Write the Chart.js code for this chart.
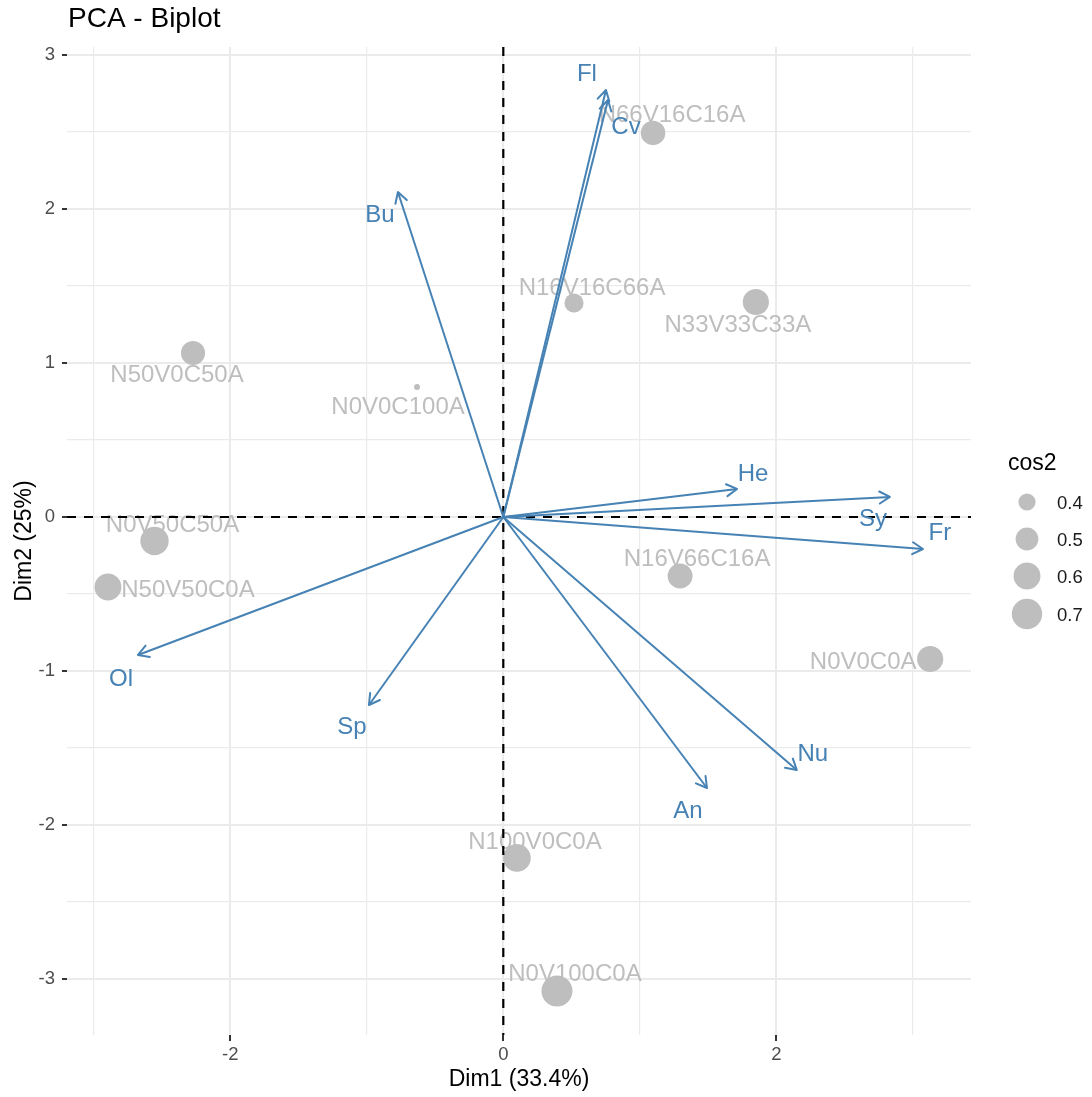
<!DOCTYPE html>
<html>
<head>
<meta charset="utf-8">
<title>PCA - Biplot</title>
<script src="https://cdn.jsdelivr.net/npm/chart.js@4.4.1/dist/chart.umd.min.js"></script>
<style>
  html, body { margin: 0; padding: 0; background: #ffffff; }
  #wrap { width: 1092px; height: 1097px; }
</style>
</head>
<body>
<div id="wrap"><canvas id="biplot" width="1092" height="1097"></canvas></div>
<script>
// ---- Individuals (rows) ----
const individuals = ['N66V16C16A', 'N16V16C66A', 'N33V33C33A', 'N50V0C50A', 'N0V0C100A',
  'N0V50C50A', 'N50V50C0A', 'N16V66C16A', 'N0V0C0A', 'N100V0C0A', 'N0V100C0A'];
const indDim1 = [1.097, 0.518, 1.850, -2.273, -0.632, -2.555, -2.896, 1.295, 3.127, 0.100, 0.393];
const indDim2 = [2.494, 1.390, 1.396, 1.065, 0.844, -0.156, -0.455, -0.383, -0.922, -2.214, -3.078];
const indCos2 = [0.54, 0.43, 0.58, 0.53, 0.32, 0.64, 0.60, 0.55, 0.58, 0.62, 0.72];

// ---- Variables (columns) ----
const variables = ['Fl', 'Cv', 'Bu', 'He', 'Sy', 'Fr', 'Ol', 'Sp', 'An', 'Nu'];
const varDim1 = [0.752, 0.767, -0.772, 1.712, 2.832, 3.074, -2.676, -0.984, 1.492, 2.150];
const varDim2 = [2.773, 2.708, 2.110, 0.182, 0.130, -0.208, -0.896, -1.221, -1.760, -1.643];

// ---- Axes and legend ----
const xTicks = [-3, -2, -1, 0, 1, 2, 3];
const xTickLabels = ['', '-2', '', '0', '', '2', ''];
const yTicks = [-3, -2.5, -2, -1.5, -1, -0.5, 0, 0.5, 1, 1.5, 2, 2.5, 3];
const yTickLabels = ['-3', '', '-2', '', '-1', '', '0', '', '1', '', '2', '', '3'];
const legendValues = [0.4, 0.5, 0.6, 0.7];
const chartTitle = 'PCA - Biplot';
const xAxisTitle = 'Dim1 (33.4%)';
const yAxisTitle = 'Dim2 (25%)';
const legendTitle = 'cos2';

// ---- Label placement (pixel nudges from each mark) ----
const indLabelNudge = [[19, -20], [18, -17], [-18, 21], [-16, 20], [-19, 18], [18, -18],
  [80, 1], [17, -19], [-67, 1], [18, -18], [18, -19]];
const varLabelNudge = [[-19, -18], [18, 25], [-18, 21], [16, -17], [-17, 20], [17, -18],
  [-17, 22], [-17, 20], [-19, 21], [16, -18]];

const FONT = "'Liberation Sans', Arial, Helvetica, sans-serif";
const STEEL = '#4682b4';
const GREY = '#bebebe';

const cosLo = Math.min(...indCos2);
const cosHi = Math.max(...indCos2);
function radiusFor(v) {
  const t = Math.max(0, Math.min(1, (v - cosLo) / (cosHi - cosLo)));
  return 3 + 12.5 * Math.sqrt(t);
}

function textCentered(ctx, text, cx, cy, size, color, align) {
  ctx.save();
  ctx.font = size + 'px ' + FONT;
  ctx.fillStyle = color;
  ctx.textAlign = align || 'center';
  ctx.textBaseline = 'alphabetic';
  ctx.fillText(text, cx, cy + size * 0.358);
  ctx.restore();
}

const biplotLayers = {
  id: 'biplotLayers',
  afterDatasetDraw(chart, args) {
    if (args.index !== 0) return;
    const { ctx, chartArea, scales: { x, y } } = chart;
    // individual labels
    individuals.forEach((name, i) => {
      const px = x.getPixelForValue(indDim1[i]);
      const py = y.getPixelForValue(indDim2[i]);
      textCentered(ctx, name, px + indLabelNudge[i][0], py + indLabelNudge[i][1], 24, GREY);
    });
    // dashed reference lines through the origin
    const x0 = x.getPixelForValue(0);
    const y0 = y.getPixelForValue(0);
    ctx.save();
    ctx.strokeStyle = '#000000';
    ctx.lineWidth = 2.2;
    ctx.setLineDash([9, 8]);
    ctx.beginPath();
    ctx.moveTo(chartArea.left, y0);
    ctx.lineTo(chartArea.right, y0);
    ctx.moveTo(x0, chartArea.top);
    ctx.lineTo(x0, chartArea.bottom);
    ctx.stroke();
    ctx.restore();
  },
  afterDatasetsDraw(chart) {
    const { ctx, scales: { x, y } } = chart;
    const ox = x.getPixelForValue(0);
    const oy = y.getPixelForValue(0);
    variables.forEach((name, i) => {
      const tx = x.getPixelForValue(varDim1[i]);
      const ty = y.getPixelForValue(varDim2[i]);
      const ang = Math.atan2(ty - oy, tx - ox);
      const len = 12;
      const spread = Math.PI / 6;
      ctx.save();
      ctx.strokeStyle = STEEL;
      ctx.lineWidth = 2;
      ctx.lineCap = 'round';
      ctx.lineJoin = 'round';
      ctx.beginPath();
      ctx.moveTo(tx - len * Math.cos(ang - spread), ty - len * Math.sin(ang - spread));
      ctx.lineTo(tx, ty);
      ctx.lineTo(tx - len * Math.cos(ang + spread), ty - len * Math.sin(ang + spread));
      ctx.stroke();
      ctx.restore();
      textCentered(ctx, name, tx + varLabelNudge[i][0], ty + varLabelNudge[i][1], 24, STEEL);
    });
  },
  afterDraw(chart) {
    const { ctx } = chart;
    // plot title
    ctx.save();
    ctx.font = '28px ' + FONT;
    ctx.fillStyle = '#000000';
    ctx.textAlign = 'left';
    ctx.textBaseline = 'alphabetic';
    ctx.fillText(chartTitle, 68, 27);
    ctx.restore();
    // size legend
    textCentered(ctx, legendTitle, 1008, 462, 23, '#000000', 'left');
    const rows = [502, 539, 576, 614];
    legendValues.forEach((v, i) => {
      ctx.save();
      ctx.fillStyle = GREY;
      ctx.beginPath();
      ctx.arc(1027, rows[i], radiusFor(v), 0, Math.PI * 2);
      ctx.fill();
      ctx.restore();
      textCentered(ctx, v.toFixed(1), 1057, rows[i], 18.5, '#1a1a1a', 'left');
    });
  }
};

const tickFont = { family: FONT, size: 18.5 };
const titleFont = { family: FONT, size: 23 };

new Chart(document.getElementById('biplot'), {
  type: 'scatter',
  data: {
    datasets: [
      {
        label: 'individuals',
        data: indDim1.map((v, i) => ({ x: v, y: indDim2[i] })),
        backgroundColor: GREY,
        borderWidth: 0,
        pointRadius: (c) => radiusFor(indCos2[c.dataIndex]),
        pointHoverRadius: (c) => radiusFor(indCos2[c.dataIndex]),
        order: 1
      },
      ...variables.map((name, i) => ({
        type: 'line',
        label: name,
        data: [{ x: 0, y: 0 }, { x: varDim1[i], y: varDim2[i] }],
        borderColor: STEEL,
        borderWidth: 2,
        pointRadius: 0,
        fill: false,
        tension: 0,
        order: 0
      }))
    ]
  },
  options: {
    responsive: false,
    animation: false,
    devicePixelRatio: 1,
    layout: { padding: { left: 0, right: 121, top: 47, bottom: 0 } },
    plugins: { legend: { display: false }, tooltip: { enabled: false }, title: { display: false } },
    scales: {
      x: {
        type: 'linear',
        min: -3.196,
        max: 3.426,
        afterBuildTicks: (s) => { s.ticks = xTicks.map(v => ({ value: v })); },
        afterFit: (s) => { s.height = 62; },
        border: { display: false },
        grid: {
          color: '#ebebeb',
          lineWidth: (c) => (c.tick && Math.abs(c.tick.value % 2) === 0 ? 2 : 1.2),
          drawTicks: true,
          tickLength: 6,
          tickWidth: 2,
          tickColor: (c) => (c.tick && Math.abs(c.tick.value % 2) === 0 ? '#333333' : 'rgba(0,0,0,0)')
        },
        ticks: {
          autoSkip: false,
          maxRotation: 0,
          padding: 3,
          color: '#4d4d4d',
          font: tickFont,
          callback: (v, i) => xTickLabels[i]
        },
        title: { display: true, text: xAxisTitle, color: '#000000', font: titleFont, padding: { top: 0, bottom: 4 } }
      },
      y: {
        type: 'linear',
        min: -3.364,
        max: 3.052,
        afterBuildTicks: (s) => { s.ticks = yTicks.map(v => ({ value: v })); },
        afterFit: (s) => { s.width = 67; },
        border: { display: false },
        grid: {
          color: '#ebebeb',
          lineWidth: (c) => (c.tick && Number.isInteger(c.tick.value) ? 2 : 1.2),
          drawTicks: true,
          tickLength: 5,
          tickWidth: 2,
          tickColor: (c) => (c.tick && Number.isInteger(c.tick.value) ? '#333333' : 'rgba(0,0,0,0)')
        },
        ticks: {
          autoSkip: false,
          padding: 7,
          color: '#4d4d4d',
          font: tickFont,
          callback: (v, i) => yTickLabels[i]
        },
        title: { display: true, text: yAxisTitle, color: '#000000', font: titleFont, padding: { top: 11, bottom: 0 } }
      }
    }
  },
  plugins: [biplotLayers]
});
</script>
</body>
</html>
